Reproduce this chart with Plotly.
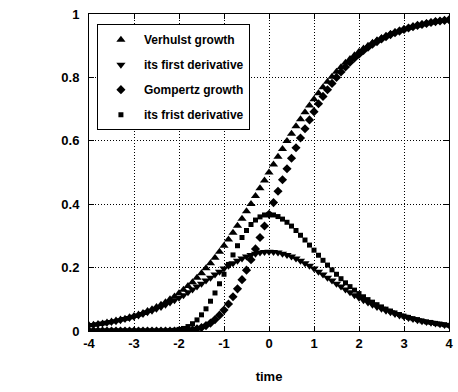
"""Verhulst vs Gompertz growth curves with their first derivatives."""

import plotly.graph_objects as go

# time samples, -4 .. 4 in steps of 0.1
TIME = [round(-4 + 0.1 * i, 1) for i in range(81)]

VERHULST = [
    0.018, 0.020, 0.022, 0.024, 0.027, 0.030, 0.033, 0.036, 0.039, 0.043,
    0.047, 0.052, 0.057, 0.063, 0.069, 0.076, 0.083, 0.091, 0.100, 0.109,
    0.119, 0.130, 0.142, 0.154, 0.168, 0.182, 0.198, 0.214, 0.231, 0.250,
    0.269, 0.289, 0.310, 0.332, 0.354, 0.378, 0.401, 0.426, 0.450, 0.475,
    0.500,
    0.525, 0.550, 0.574, 0.599, 0.622, 0.646, 0.668, 0.690, 0.711, 0.731,
    0.750, 0.769, 0.786, 0.802, 0.818, 0.832, 0.846, 0.858, 0.870, 0.881,
    0.891, 0.900, 0.909, 0.917, 0.924, 0.931, 0.937, 0.943, 0.948, 0.953,
    0.957, 0.961, 0.964, 0.968, 0.971, 0.973, 0.976, 0.978, 0.980, 0.982,
]

VERHULST_RATE = [
    0.018, 0.019, 0.021, 0.024, 0.026, 0.028, 0.031, 0.034, 0.038, 0.041,
    0.045, 0.049, 0.054, 0.059, 0.064, 0.070, 0.076, 0.083, 0.090, 0.097,
    0.105, 0.113, 0.122, 0.131, 0.140, 0.149, 0.159, 0.168, 0.178, 0.187,
    0.197, 0.206, 0.214, 0.222, 0.229, 0.235, 0.240, 0.244, 0.248, 0.249,
    0.250,
    0.249, 0.248, 0.244, 0.240, 0.235, 0.229, 0.222, 0.214, 0.206, 0.197,
    0.187, 0.178, 0.168, 0.159, 0.149, 0.140, 0.131, 0.122, 0.113, 0.105,
    0.097, 0.090, 0.083, 0.076, 0.070, 0.064, 0.059, 0.054, 0.049, 0.045,
    0.041, 0.038, 0.034, 0.031, 0.028, 0.026, 0.024, 0.021, 0.019, 0.018,
]

GOMPERTZ = [
    0.000, 0.000, 0.000, 0.000, 0.000, 0.000, 0.000, 0.000, 0.000, 0.000,
    0.000, 0.000, 0.000, 0.000, 0.000, 0.000, 0.000, 0.000, 0.000, 0.000,
    0.001, 0.001, 0.002, 0.004, 0.007, 0.011, 0.017, 0.025, 0.036, 0.050,
    0.066, 0.085, 0.108, 0.133, 0.162, 0.192, 0.225, 0.259, 0.295, 0.331,
    0.368,
    0.405, 0.441, 0.477, 0.512, 0.545, 0.578, 0.609, 0.638, 0.666, 0.692,
    0.717, 0.740, 0.761, 0.781, 0.800, 0.817, 0.833, 0.848, 0.861, 0.873,
    0.885, 0.895, 0.905, 0.913, 0.921, 0.928, 0.935, 0.941, 0.946, 0.951,
    0.956, 0.960, 0.964, 0.967, 0.970, 0.973, 0.976, 0.978, 0.980, 0.982,
]

GOMPERTZ_RATE = [
    0.000, 0.000, 0.000, 0.000, 0.000, 0.000, 0.000, 0.000, 0.000, 0.000,
    0.000, 0.000, 0.000, 0.000, 0.000, 0.000, 0.000, 0.000, 0.001, 0.002,
    0.005, 0.008, 0.014, 0.023, 0.035, 0.051, 0.070, 0.094, 0.120, 0.149,
    0.179, 0.210, 0.240, 0.269, 0.295, 0.317, 0.336, 0.350, 0.360, 0.366,
    0.368,
    0.366, 0.361, 0.353, 0.343, 0.331, 0.317, 0.302, 0.287, 0.271, 0.255,
    0.239, 0.223, 0.208, 0.193, 0.179, 0.165, 0.152, 0.140, 0.129, 0.118,
    0.108, 0.099, 0.091, 0.083, 0.076, 0.069, 0.063, 0.057, 0.052, 0.047,
    0.043, 0.039, 0.036, 0.032, 0.029, 0.027, 0.024, 0.022, 0.020, 0.018,
]

X_TICKS = [-4, -3, -2, -1, 0, 1, 2, 3, 4]
X_TICK_TEXT = ["-4", "-3", "-2", "-1", "0", "1", "2", "3", "4"]
Y_TICKS = [0, 0.2, 0.4, 0.6, 0.8, 1]
Y_TICK_TEXT = ["0", "0.2", "0.4", "0.6", "0.8", "1"]

FONT = "Liberation Sans, Arial, sans-serif"

fig = go.Figure()
for values, name, symbol, size in [
    (VERHULST, "Verhulst growth", "triangle-up", 8),
    (VERHULST_RATE, "its first derivative", "triangle-down", 8),
    (GOMPERTZ, "Gompertz growth", "diamond", 7),
    (GOMPERTZ_RATE, "its frist derivative", "square", 5),
]:
    fig.add_trace(
        go.Scatter(
            x=TIME,
            y=values,
            mode="markers",
            name=name,
            legendgroup=name,
            marker={"symbol": symbol, "size": size, "color": "black", "line": {"width": 0}},
        )
    )

axis_common = dict(
    showline=True,
    linecolor="black",
    linewidth=1,
    mirror="ticks",
    ticks="inside",
    ticklen=5,
    tickcolor="black",
    showgrid=True,
    gridcolor="black",
    gridwidth=1,
    griddash="1px,2px",
    zeroline=False,
    automargin=False,
    tickfont={"family": FONT, "size": 13, "color": "black", "weight": "bold"},
)

fig.update_xaxes(
    range=[-4, 4],
    tickvals=X_TICKS,
    ticktext=X_TICK_TEXT,
    title={"text": "time", "font": {"family": FONT, "size": 13, "color": "black", "weight": "bold"}, "standoff": 22},
    **axis_common,
)
fig.update_yaxes(
    range=[0, 1],
    tickvals=Y_TICKS,
    ticktext=Y_TICK_TEXT,
    ticklabelstandoff=6,
    **axis_common,
)

fig.update_layout(
    width=458,
    height=392,
    margin={"l": 89, "r": 9, "t": 14, "b": 61},
    paper_bgcolor="white",
    plot_bgcolor="white",
    showlegend=True,
    legend={
        "x": 0.022,
        "y": 0.968,
        "xanchor": "left",
        "yanchor": "top",
        "bgcolor": "white",
        "bordercolor": "black",
        "borderwidth": 1,
        "font": {"family": FONT, "size": 12, "color": "black", "weight": "bold"},
        "tracegroupgap": 6,
        "itemwidth": 36,
    },
)

# drop the default 8px body margin so the figure fills the window exactly
fig.write_html(
    "out.html",
    config={"displayModeBar": False},
    post_script="document.body.style.margin='0';document.body.style.overflow='hidden';",
)
